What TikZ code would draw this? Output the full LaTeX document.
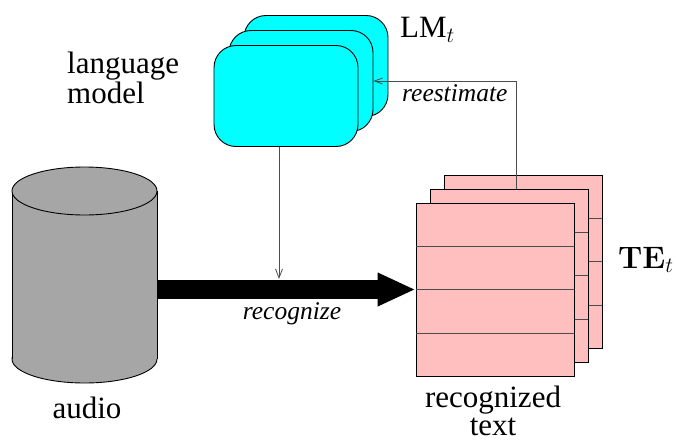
\RequirePackage{fix-cm}
\documentclass[tikz,border=0pt]{standalone}
\usepackage[no-math]{fontspec}
\setmainfont{Liberation Serif}
\usetikzlibrary{arrows.meta,calc}
\definecolor{lmcyan}{HTML}{00FFFF}
\definecolor{tepink}{HTML}{FFBFBF}
\definecolor{audiogray}{HTML}{A6A6A6}
\begin{document}
\begin{tikzpicture}[x=1pt,y=-1pt,
  lmbox/.style={draw, fill=lmcyan, rounded corners=22pt, minimum width=144pt, minimum height=101pt, inner sep=0pt, line width=0.9pt},
  tebox/.style={draw, fill=tepink, minimum width=158pt, minimum height=173pt, inner sep=0pt, line width=0.9pt},
  rowline/.style={draw=black!70, line width=0.9pt},
  conn/.style={draw=black!70, line width=0.8pt},
  lbl/.style={font=\fontsize{31}{30}\selectfont, inner sep=0pt},
  ilbl/.style={font=\fontsize{25.5}{28}\selectfont\itshape, inner sep=0pt}]
\useasboundingbox (0,0) rectangle (676,441);
% language model stack
\node[lmbox] (lmb) at (316,66) {};
\node[lmbox] (lmm) at (301,81) {};
\node[lmbox] (lmf) at (286,96) {};
% recognized text stack
\foreach \n/\cx/\cy in {teb/523/261.5, tem/509/275.5, tef/495/289.5}{
  \node[tebox] (\n) at (\cx,\cy) {};
  \foreach \f in {0.25,0.5,0.75}
    \draw[rowline] ($(\n.north west)!\f!(\n.south west)$) -- ($(\n.north east)!\f!(\n.south east)$);
}
% audio cylinder
\filldraw[fill=audiogray, draw=black, line width=0.9pt] (84.5,359) ellipse [x radius=72.5, y radius=24];
\fill[audiogray] (12,191) rectangle (157,359);
\draw[line width=0.9pt] (12,191) -- (12,359) (157,191) -- (157,359);
\filldraw[fill=audiogray, draw=black, line width=0.9pt] (84.5,191) ellipse [x radius=72.5, y radius=24];
\node[inner sep=0pt, minimum width=145pt, minimum height=216pt] (cyl) at (84.5,275) {};
% recognize arrow
\draw[line width=19pt, -{Triangle[length=38pt,width=31pt]}] (cyl.east |- tef.west) -- (tef.west);
\node[ilbl, anchor=base] (rec) at (292,319) {recognize};
% language model into recognition
\coordinate (hit) at (279,279);
\draw[conn, -{Straight Barb[length=9pt,width=7pt]}] (lmf.south -| hit) -- (hit);
% reestimate
\draw[conn, -{Straight Barb[length=8pt,width=6pt]}] ([xshift=7pt]tem.north) |- (lmm.east);
\node[ilbl, anchor=base west] (rest) at (402,102) {reestimate};
% labels
\node[lbl, anchor=north west, align=left] (lm) at (67,52) {language\\model};
\node[lbl, anchor=base west] (lmt) at (400,38) {LM$_t$};
\node[lbl, anchor=base west] (tet) at (618,268) {$\mathbf{TE}_t$};
\node[lbl, anchor=base] (aud) at (87,418) {audio};
\node[lbl, font=\fontsize{31}{28}\selectfont, anchor=north, align=center] (rt) at (493,386) {recognized\\text};
\end{tikzpicture}
\end{document}
